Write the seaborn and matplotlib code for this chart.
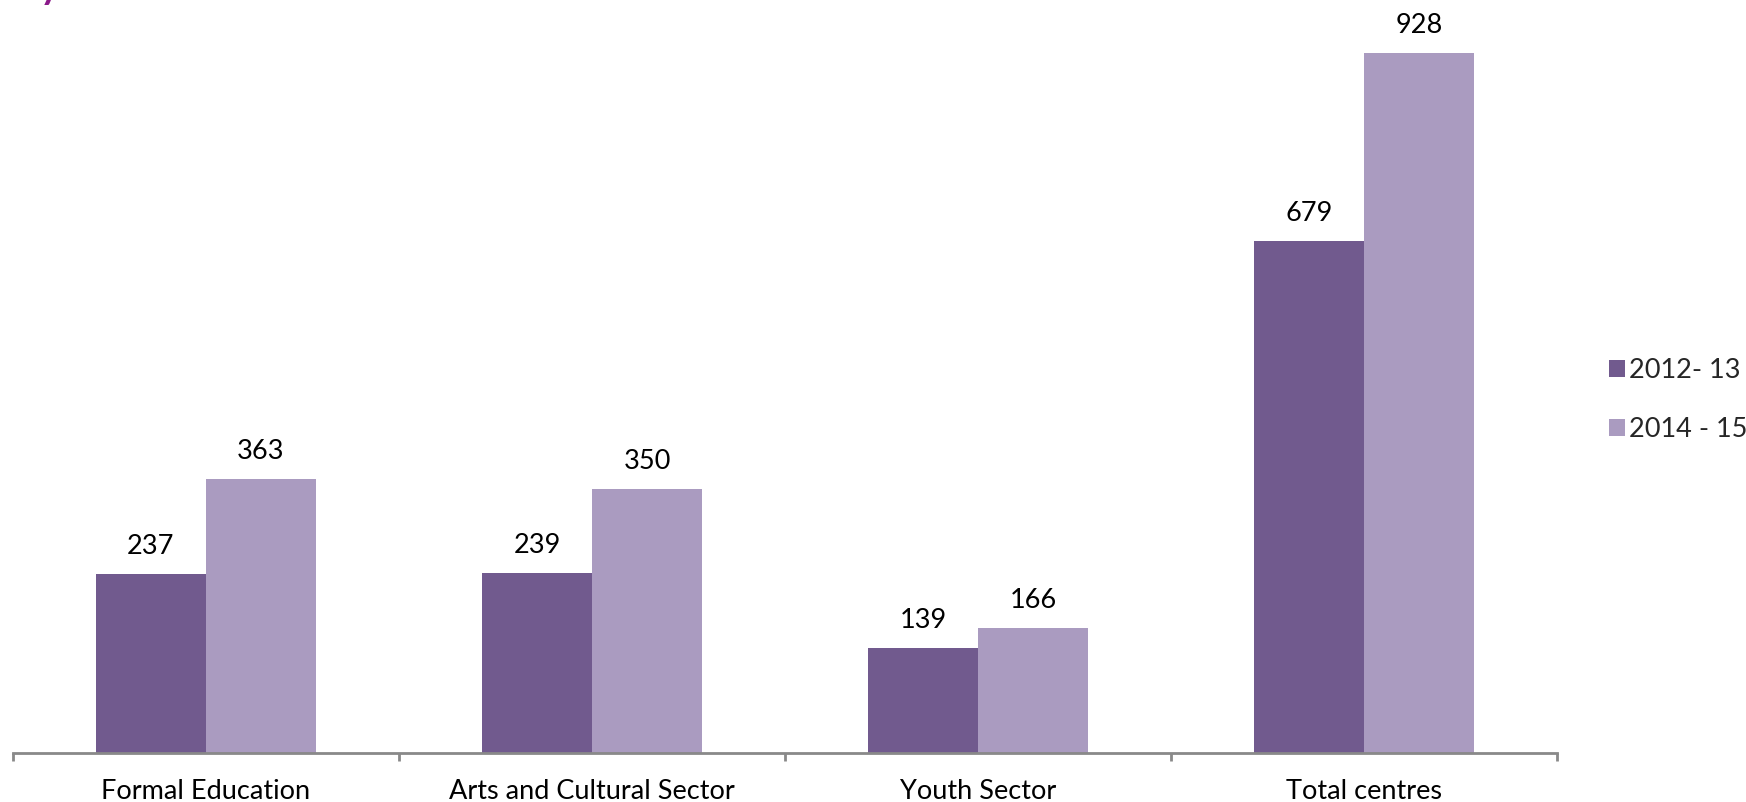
import matplotlib
matplotlib.use("Agg")
import matplotlib.pyplot as plt
import seaborn as sns
import pandas as pd

categories = ["Formal Education", "Arts and Cultural Sector", "Youth Sector", "Total centres"]
series_names = ["2012- 13", "2014 - 15"]
values_2012 = [237, 239, 139, 679]
values_2014 = [363, 350, 166, 928]
colors = ["#715A8E", "#AA9BC0"]

df = pd.DataFrame({
    "category": categories * 2,
    "period": [series_names[0]] * 4 + [series_names[1]] * 4,
    "centres": values_2012 + values_2014,
})

sns.set_theme(style="white")
plt.rcParams["font.family"] = ["Lato", "DejaVu Sans"]

fig = plt.figure(figsize=(17.46, 8.02), dpi=100)
ax = fig.add_axes([13 / 1746, 49 / 802, 1544 / 1746, 754 / 802])

sns.barplot(data=df, x="category", y="centres", hue="period", order=categories,
            hue_order=series_names, palette=colors, width=0.57, gap=0,
            saturation=1, linewidth=0, ax=ax, legend=True)

# value labels above bars
for container in ax.containers:
    for bar in container:
        h = bar.get_height()
        ax.annotate(f"{h:.0f}", (bar.get_x() + bar.get_width() / 2, h),
                    xytext=(0, 11), textcoords="offset points",
                    ha="center", va="bottom", fontsize=19.5, color="black")

ax.set_xlim(-0.5, 3.5)
ax.set_ylim(0, 1000)
ax.set_xlabel("")
ax.set_ylabel("")
ax.set_yticks([])
for side in ["top", "right", "left"]:
    ax.spines[side].set_visible(False)
ax.spines["bottom"].set_color("#898989")
ax.spines["bottom"].set_linewidth(2)

ax.tick_params(axis="x", which="major", bottom=False, length=0, pad=19,
               labelsize=19.5, labelcolor="black")
ax.set_xticks([-0.5, 0.5, 1.5, 2.5, 3.5], minor=True)
ax.tick_params(axis="x", which="minor", bottom=True, length=6, width=2,
               color="#898989", direction="out")

leg = ax.legend(loc="center left", bbox_to_anchor=((1609 - 13) / 1544, 0.468),
                frameon=False, fontsize=19.5, handlelength=0.6, handleheight=0.6,
                handletextpad=0.15, labelspacing=1.25, borderaxespad=0, borderpad=0)

# cut-off title descender at the top-left
fig.text(40 / 1746, 1.0 + 1 / 802, "y", fontsize=27, fontweight="bold",
         color="#8B1A8A", va="baseline", ha="left")

fig.savefig("out.png", dpi=100)
